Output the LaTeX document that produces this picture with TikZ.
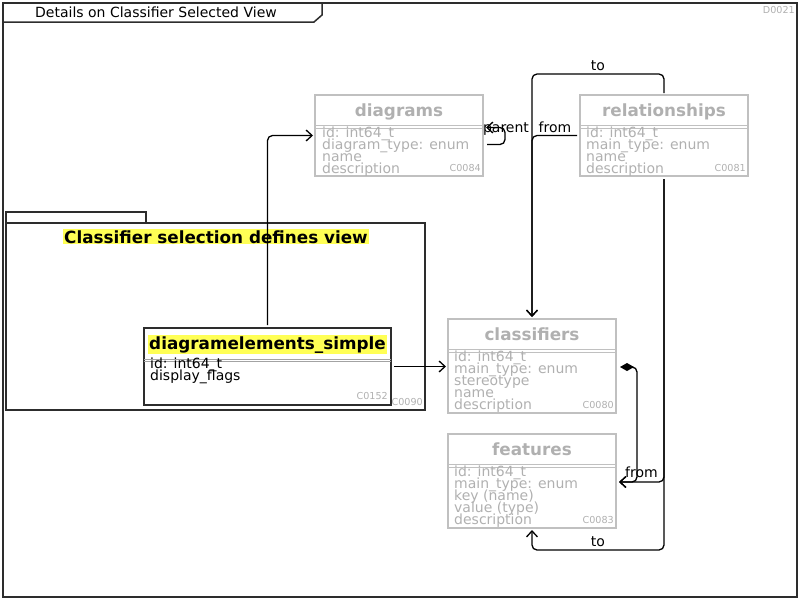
\documentclass[tikz,border=0pt]{standalone}
\usepackage{fontspec}
\setmainfont{DejaVu Sans}
\usetikzlibrary{arrows.meta,calc}
\definecolor{lgray}{RGB}{192,192,192}
\definecolor{tgray}{RGB}{176,176,176}
\definecolor{hl}{RGB}{255,255,85}
\definecolor{dk}{RGB}{45,45,45}
\begin{document}
\begin{tikzpicture}[x=1pt,y=-1pt,
  grayclass/.style={draw=lgray,line width=2pt,inner sep=0pt,outer sep=0pt,anchor=north west},
  blackclass/.style={draw=dk,line width=1.5pt,inner sep=0pt,outer sep=0pt,anchor=north west},
  sepg/.style={draw=lgray,line width=1pt},
  sepb/.style={draw=dk!20!lgray,line width=1pt},
  gtitle/.style={text=tgray,font=\fontsize{16.8}{18}\selectfont\bfseries,anchor=base,inner sep=0pt},
  htitle/.style={text=black,fill=hl,font=\fontsize{16.8}{18}\selectfont\bfseries,anchor=base,inner sep=1.2pt},
  gattr/.style={text=tgray,font=\fontsize{14}{12}\selectfont,anchor=base west,inner sep=0pt},
  battr/.style={text=black,font=\fontsize{14}{12}\selectfont,anchor=base west,inner sep=0pt},
  ident/.style={text=tgray,font=\fontsize{9.6}{10}\selectfont,anchor=base east,inner sep=0pt},
  lbl/.style={text=black,font=\fontsize{14}{12}\selectfont,anchor=base,inner sep=0pt},
  conn/.style={draw=black,line width=1.3pt,rounded corners=5pt,-{Straight Barb[length=6pt,width=11pt,line width=1.3pt]}},
  plain/.style={draw=black,line width=1.3pt,rounded corners=5pt}
]
\useasboundingbox (0,0) rectangle (800,600);
% frame
\draw[dk,line width=1.5pt] (3,3) rectangle (797,597);
\draw[dk,line width=1.5pt] (3,22) -- (314,22) -- (322,15) -- (322,3);
\node[anchor=base west,inner sep=0pt,font=\fontsize{14}{12}\selectfont] (frametitle) at (35,17) {Details on Classifier Selected View};
\node[ident] (fid) at (795,13) {D0021};

% package
\draw[dk,line width=1.5pt] (6,223) -- (6,212) -- (146,212) -- (146,223);
\node[blackclass,minimum width=419pt,minimum height=187pt] (pkg) at (6,223) {};
\node[htitle] (pkgtitle) at (216,243) {Classifier selection defines view};
\node[ident] (pkgid) at (423,405) {C0090};

% diagramelements_simple
\node[blackclass,minimum width=247pt,minimum height=77pt] (diagelem) at (144,328) {};
\node[htitle] (detitle) at (267.5,349) {diagramelements\_simple};
\draw[sepb] (144,359) -- (391,359);
\draw[sepb] (144,361.5) -- (391,361.5);
\node[battr] (de1) at (150,368) {id: int64\_t};
\node[battr] (de2) at (150,380) {display\_flags};
\node[ident] (deid) at (388,399.5) {C0152};

% diagrams
\node[grayclass,minimum width=168pt,minimum height=81pt] (diagrams) at (315,95) {};
\node[gtitle] (dtitle) at (399,116) {diagrams};
\draw[sepg] (315,125.5) -- (483,125.5);
\draw[sepg] (315,128.5) -- (483,128.5);
\node[gattr] (d1) at (322,137) {id: int64\_t};
\node[gattr] (d2) at (322,149) {diagram\_type: enum};
\node[gattr] (d3) at (322,161) {name};
\node[gattr] (d4) at (322,173) {description};
\node[ident] (did) at (481,171.5) {C0084};

% relationships
\node[grayclass,minimum width=168pt,minimum height=81pt] (rel) at (580,95) {};
\node[gtitle] (rtitle) at (664,116) {relationships};
\draw[sepg] (580,125.5) -- (748,125.5);
\draw[sepg] (580,128.5) -- (748,128.5);
\node[gattr] (r1) at (586,137) {id: int64\_t};
\node[gattr] (r2) at (586,149) {main\_type: enum};
\node[gattr] (r3) at (586,161) {name};
\node[gattr] (r4) at (586,173) {description};
\node[ident] (rid) at (746,171.5) {C0081};

% classifiers
\node[grayclass,minimum width=168pt,minimum height=94pt] (cls) at (448,319) {};
\node[gtitle] (ctitle) at (532,340) {classifiers};
\draw[sepg] (448,349.5) -- (616,349.5);
\draw[sepg] (448,352.5) -- (616,352.5);
\node[gattr] (c1) at (454,361) {id: int64\_t};
\node[gattr] (c2) at (454,373) {main\_type: enum};
\node[gattr] (c3) at (454,385) {stereotype};
\node[gattr] (c4) at (454,397) {name};
\node[gattr] (c5) at (454,409.5) {description};
\node[ident] (cid) at (614,408.5) {C0080};

% features
\node[grayclass,minimum width=168pt,minimum height=94pt] (feat) at (448,434) {};
\node[gtitle] (ftitle) at (532,455) {features};
\draw[sepg] (448,464.5) -- (616,464.5);
\draw[sepg] (448,467.5) -- (616,467.5);
\node[gattr] (f1) at (454,476) {id: int64\_t};
\node[gattr] (f2) at (454,488) {main\_type: enum};
\node[gattr] (f3) at (454,500) {key (name)};
\node[gattr] (f4) at (454,512) {value (type)};
\node[gattr] (f5) at (454,524.5) {description};
\node[ident] (fid2) at (614,523.5) {C0083};

% connectors
\draw[conn,shorten <=3pt,shorten >=2pt] (diagelem.north) |- (diagrams.west);
\draw[conn,shorten <=3pt,shorten >=2pt] (diagelem.east) -- (diagelem.east -| cls.west);
% self loop
\coordinate (loopa) at (487,144.5);
\coordinate (loopb) at (505,144.5);
\coordinate (loopc) at (505,127.5);
\coordinate (loopd) at (486,127.5);
\draw[conn] (loopa) -- (loopb) -- (loopc) -- (loopd);
\node[lbl] (lparent) at (506,132) {parent};
% relationships -> classifiers
\coordinate (topto) at (532,74);
\draw[conn,shorten <=2pt,shorten >=2pt] (rel.north) -- (rel.north |- topto) -- (topto) -- (cls.north);
\node[lbl] (lto1) at (598,70) {to};
\draw[conn,shorten <=3pt,shorten >=2pt] (rel.west) -| (cls.north);
\node[lbl] (lfrom1) at (555,132) {from};
% relationships -> features
\coordinate (fromf) at (664,482);
\draw[conn,shorten <=3pt,shorten >=3pt] (rel.south) -- (fromf) -- (fromf -| feat.east);
\node[lbl] (lfrom2) at (641.5,477) {from};
\coordinate (tof) at (664,550);
\draw[conn,shorten <=3pt,shorten >=2pt] (rel.south) -- (tof) -- (tof -| feat.south) -- (feat.south);
\node[lbl] (lto2) at (598,546) {to};
% composition features -> classifiers
\coordinate (compa) at (637,367);
\coordinate (compb) at (637,482);
\draw[plain,{Diamond[length=14pt,width=8pt]}-{Straight Barb[length=6pt,width=11pt,line width=1.3pt]},shorten <=4pt,shorten >=3pt] (cls.east |- compa) -- (compa) -- (compb) -- (compb -| feat.east);
\end{tikzpicture}
\end{document}
